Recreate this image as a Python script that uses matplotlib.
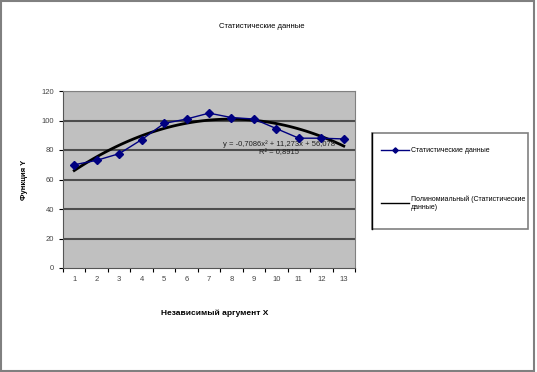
import numpy as np
import matplotlib
matplotlib.use('Agg')
import matplotlib.pyplot as plt
from matplotlib.patches import Rectangle

plt.rcParams['font.family'] = ['Liberation Sans', 'DejaVu Sans']
plt.rcParams['font.size'] = 6

# data
x_vals = np.arange(1, 14)
y_vals = [70, 73, 77.5, 87, 98, 101, 105, 102, 101, 94.5, 88, 88, 87.5]
yticks = [0, 20, 40, 60, 80, 100, 120]
title = 'Статистические данные'
xlabel = 'Независимый аргумент X'
ylabel = 'Функция Y'
series_name = 'Статистические данные'
trend_name = 'Полиномиальный (Статистические\nданные)'
eq_text = 'y = -0,7086x² + 11,273x + 56,078\nR² = 0,8915'

fig = plt.figure(figsize=(5.37, 3.72), dpi=100)
# outer frame of the chart
fig.patches.append(Rectangle((0.001, 0.004), 0.994, 0.992, transform=fig.transFigure,
                             fill=False, edgecolor='#808080', lw=1.5, zorder=-2))
# legend box
fig.patches.append(Rectangle((372/537, 1-229/372), 156/537, 96/372, transform=fig.transFigure,
                             facecolor='white', edgecolor='#808080', lw=1.2, zorder=-2))
fig.lines.append(plt.Line2D([372/537, 372/537], [1-229/372, 1-133/372],
                            transform=fig.transFigure, color='black', lw=1, zorder=-1))

ax = fig.add_axes([63/537, 1-268/372, 292/537, 177/372])
ax.set_facecolor('#C0C0C0')

# polynomial trend (2nd order) fitted to the series
coef = np.polyfit(x_vals, y_vals, 2)
xs = np.linspace(1, 13, 100)
ax.plot(xs, np.polyval(coef, xs), color='black', lw=2, zorder=3)
ax.plot(x_vals, y_vals, color='#000080', lw=1, marker='D', ms=4.5,
        mfc='#000080', mec='#000080', zorder=4)

ax.set_xlim(0.5, 13.5)
ax.set_ylim(0, 120)
ax.set_yticks(yticks)
ax.set_yticklabels([str(t) for t in yticks], color='#444444', fontsize=5.5)
for t in yticks[1:]:
    ax.axhline(t, color='#4d4d4d', lw=1.5, zorder=1)

ax.set_xticks(x_vals)
ax.set_xticklabels([str(v) for v in x_vals], color='#444444', fontsize=5.5)
ax.set_xticks(np.arange(0.5, 14, 1), minor=True)
ax.tick_params(axis='x', which='major', length=0, pad=6)
ax.tick_params(axis='x', which='minor', length=3, direction='out', width=0.8)
ax.tick_params(axis='y', length=3, width=0.8)

for s in ['top', 'right']:
    ax.spines[s].set_color('#808080')
ax.spines['left'].set_color('#555555')
ax.spines['bottom'].set_color('#555555')

ax.text(12.6, 81, eq_text, ha='right', va='center', fontsize=5.5,
        multialignment='center', color='#222222')

fig.text(262/537, 1-26/372, title, ha='center', va='center', fontsize=5.5)
fig.text(215/537, 1-313/372, xlabel, ha='center', va='center', fontsize=6, fontweight='bold')
fig.text(25/537, 1-180/372, ylabel, ha='center', va='center', fontsize=5.5,
         fontweight='bold', rotation=90)

leg = ax.legend([ax.lines[1], ax.lines[0]], [series_name, trend_name],
                loc='upper left', bbox_to_anchor=(381/537, 1-147/372),
                bbox_transform=fig.transFigure, frameon=False,
                labelspacing=6, handlelength=4, handletextpad=0.3,
                borderpad=0, borderaxespad=0, fontsize=5, markerscale=0.6)
leg.legend_handles[1].set_linewidth(1)

fig.savefig('out.png', dpi=100, facecolor='white')
